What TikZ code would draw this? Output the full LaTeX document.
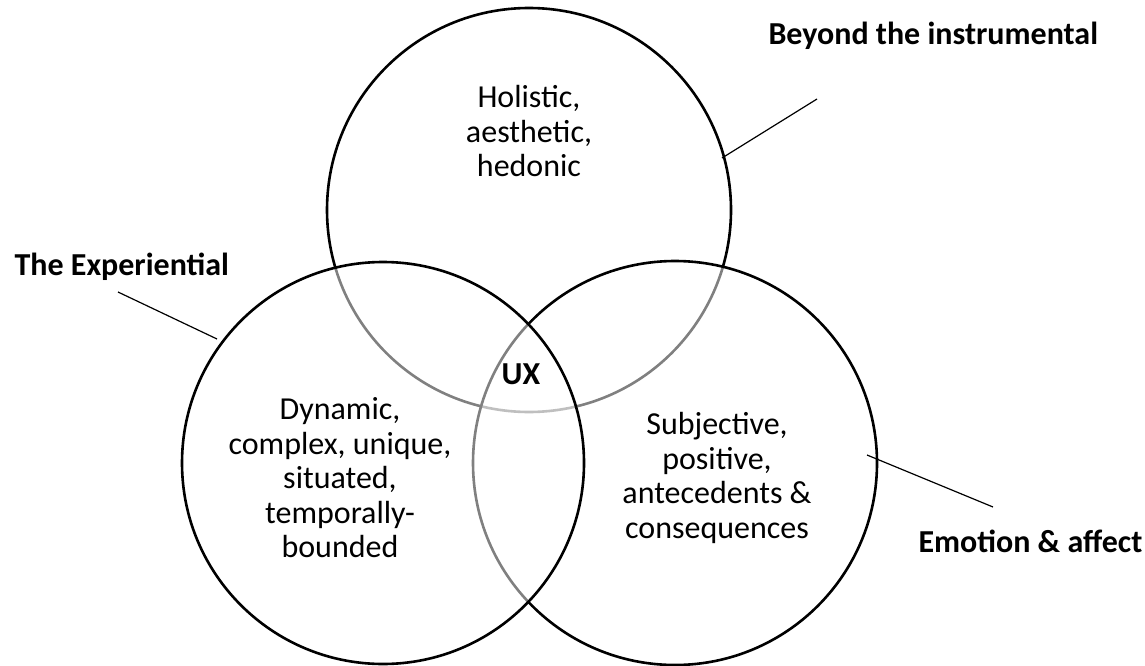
\documentclass[tikz,border=0pt]{standalone}
\usepackage{fontspec}
\setmainfont{Carlito}
\begin{document}
\begin{tikzpicture}[x=1pt,y=-1pt,
  venn/.style={circle, draw=black, line width=2.6pt, fill=white, fill opacity=0.5, draw opacity=1, minimum size=#1, inner sep=0pt},
  body/.style={font=\fontsize{32}{34.5}\selectfont, align=center, text=black},
  head/.style={font=\fontsize{32}{34}\selectfont\bfseries, text=black},
  lead/.style={draw=black, line width=1.2pt}]
\useasboundingbox (0,0) rectangle (1145,666);
\node[venn=404pt] (top) at (529,210) {};
\node[venn=404pt] (right) at (675,463) {};
\node[venn=402pt] (left) at (383,463) {};
\node[body] (ttop) at (529,131) {Holistic,\\aesthetic,\\hedonic};
\node[body] (tleft) at (340,478) {Dynamic,\\complex, unique,\\situated,\\temporally-\\bounded};
\node[body] (tright) at (717,478) {Subjective,\\positive,\\antecedents \&\\consequences};
\node[head] (ux) at (521,374) {UX};
\node[head, anchor=base west] (lbeyond) at (765,45) {Beyond the instrumental};
\node[head, anchor=base west] (lexp) at (11,275) {The Experiential};
\node[head, anchor=base west] (lemo) at (915,552) {Emotion \& affect};
\coordinate (b1) at (722,158);
\coordinate (b2) at (817,99);
\coordinate (e1) at (217,339);
\coordinate (e2) at (118,292);
\coordinate (m1) at (867,455);
\coordinate (m2) at (993,507);
\draw[lead] (b1) -- (b2);
\draw[lead] (e1) -- (e2);
\draw[lead] (m1) -- (m2);
\end{tikzpicture}
\end{document}
